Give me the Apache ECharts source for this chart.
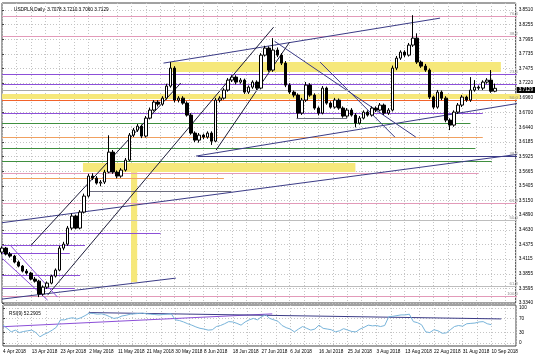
<!DOCTYPE html>
<html><head><meta charset="utf-8">
<script src="https://cdn.jsdelivr.net/npm/echarts@6/dist/echarts.min.js"></script>
<style>html,body{margin:0;padding:0;background:#fff}#c{width:536px;height:358px}</style>
</head><body><div id="c"></div>
<script>
const symbolName = 'USDPLN,Daily';
const dates = ['4 Apr 2018','5 Apr 2018','6 Apr 2018','9 Apr 2018','10 Apr 2018','11 Apr 2018','12 Apr 2018',
'13 Apr 2018','16 Apr 2018','17 Apr 2018','18 Apr 2018','19 Apr 2018','20 Apr 2018','22 Apr 2018',
'23 Apr 2018','24 Apr 2018','25 Apr 2018','26 Apr 2018','27 Apr 2018','30 Apr 2018','1 May 2018',
'2 May 2018','3 May 2018','4 May 2018','7 May 2018','8 May 2018','9 May 2018','10 May 2018',
'11 May 2018','14 May 2018','15 May 2018','16 May 2018','17 May 2018','18 May 2018','20 May 2018',
'21 May 2018','22 May 2018','23 May 2018','24 May 2018','25 May 2018','28 May 2018','29 May 2018',
'30 May 2018','31 May 2018','1 Jun 2018','4 Jun 2018','5 Jun 2018','6 Jun 2018','7 Jun 2018',
'8 Jun 2018','11 Jun 2018','12 Jun 2018','13 Jun 2018','14 Jun 2018','15 Jun 2018','17 Jun 2018',
'18 Jun 2018','19 Jun 2018','20 Jun 2018','21 Jun 2018','22 Jun 2018','25 Jun 2018','26 Jun 2018',
'27 Jun 2018','28 Jun 2018','29 Jun 2018','2 Jul 2018','3 Jul 2018','4 Jul 2018','5 Jul 2018',
'6 Jul 2018','9 Jul 2018','10 Jul 2018','11 Jul 2018','12 Jul 2018','13 Jul 2018','15 Jul 2018',
'16 Jul 2018','17 Jul 2018','18 Jul 2018','19 Jul 2018','20 Jul 2018','23 Jul 2018','24 Jul 2018',
'25 Jul 2018','26 Jul 2018','27 Jul 2018','30 Jul 2018','31 Jul 2018','1 Aug 2018','2 Aug 2018',
'3 Aug 2018','6 Aug 2018','7 Aug 2018','8 Aug 2018','9 Aug 2018','10 Aug 2018','12 Aug 2018',
'13 Aug 2018','14 Aug 2018','15 Aug 2018','16 Aug 2018','17 Aug 2018','20 Aug 2018','21 Aug 2018',
'22 Aug 2018','23 Aug 2018','24 Aug 2018','27 Aug 2018','28 Aug 2018','29 Aug 2018','30 Aug 2018',
'31 Aug 2018','3 Sep 2018','4 Sep 2018','5 Sep 2018','6 Sep 2018','7 Sep 2018','9 Sep 2018',
'10 Sep 2018','11 Sep 2018','12 Sep 2018','13 Sep 2018','14 Sep 2018','17 Sep 2018','18 Sep 2018'];
const lastLabelIndex = 119;

// [open, close, low, high]
const ohlc = [
[3.4238,3.4309,3.4200,3.4340],[3.4309,3.4203,3.4180,3.4330],[3.4203,3.4168,3.4140,3.4240],[3.4168,3.4062,3.4040,3.4190],
[3.4062,3.3991,3.3970,3.4090],[3.3991,3.3903,3.3880,3.4010],[3.3903,3.3868,3.3840,3.3940],[3.3868,3.3762,3.3740,3.3890],
[3.3762,3.3726,3.3700,3.3800],[3.3726,3.3497,3.3444,3.3750],[3.3497,3.3620,3.3470,3.3650],[3.3620,3.3691,3.3590,3.3720],
[3.3691,3.3815,3.3670,3.3840],[3.3815,3.3921,3.3790,3.3950],[3.3921,3.4309,3.3900,3.4350],[3.4309,3.4379,3.4270,3.4420],
[3.4379,3.4662,3.4350,3.4700],[3.4662,3.4874,3.4630,3.4920],[3.4874,3.4662,3.4640,3.4900],[3.4662,3.4944,3.4640,3.4980],
[3.4944,3.5227,3.4920,3.5270],[3.5227,3.5580,3.5200,3.5620],[3.5580,3.5544,3.5510,3.5630],[3.5544,3.5456,3.5430,3.5580],
[3.5456,3.5474,3.5400,3.5510],[3.5474,3.5650,3.5440,3.5690],[3.5650,3.6003,3.5630,3.6300],[3.6003,3.5650,3.5620,3.6040],
[3.5650,3.5580,3.5540,3.5680],[3.5580,3.5686,3.5550,3.5720],[3.5686,3.5862,3.5660,3.5900],[3.5862,3.6303,3.5840,3.6340],
[3.6303,3.6392,3.6270,3.6430],[3.6392,3.6462,3.6360,3.6500],[3.6462,3.6286,3.6250,3.6490],[3.6286,3.6603,3.6260,3.6640],
[3.6603,3.6745,3.6580,3.6790],[3.6745,3.6886,3.6720,3.6920],[3.6886,3.6850,3.6810,3.6920],[3.6850,3.6956,3.6820,3.6990],
[3.6956,3.7168,3.6930,3.7210],[3.7168,3.7486,3.7140,3.7592],[3.7486,3.6921,3.6880,3.7520],[3.6921,3.6956,3.6880,3.6990],
[3.6956,3.6868,3.6840,3.6990],[3.6868,3.6656,3.6630,3.6900],[3.6656,3.6339,3.6310,3.6690],[3.6339,3.6215,3.6180,3.6370],
[3.6215,3.6303,3.6170,3.6340],[3.6303,3.6268,3.6230,3.6330],[3.6268,3.6339,3.6240,3.6370],[3.6339,3.6197,3.6130,3.6370],
[3.6197,3.6921,3.6180,3.6960],[3.6921,3.6956,3.6880,3.6990],[3.6956,3.7098,3.6930,3.7130],[3.7098,3.7274,3.7070,3.7310],
[3.7274,3.7327,3.7240,3.7360],[3.7327,3.7239,3.7200,3.7360],[3.7239,3.7274,3.7210,3.7310],[3.7274,3.7062,3.7030,3.7300],
[3.7062,3.7150,3.7030,3.7180],[3.7150,3.7239,3.7120,3.7270],[3.7239,3.7133,3.7100,3.7270],[3.7133,3.7715,3.7110,3.7750],
[3.7715,3.7839,3.7690,3.7880],[3.7839,3.7451,3.7420,3.7870],[3.7451,3.7804,3.7420,3.8015],[3.7804,3.7715,3.7680,3.7850],
[3.7715,3.7574,3.7540,3.7750],[3.7574,3.7186,3.7150,3.7610],[3.7186,3.7062,3.7030,3.7220],[3.7062,3.7009,3.6970,3.7090],
[3.7009,3.6692,3.6603,3.7040],[3.6692,3.6921,3.6660,3.6960],[3.6921,3.7186,3.6890,3.7240],[3.7186,3.7009,3.6980,3.7220],
[3.7009,3.6780,3.6750,3.7040],[3.6780,3.6692,3.6650,3.6810],[3.6692,3.7133,3.6670,3.7170],[3.7133,3.6868,3.6840,3.7160],
[3.6868,3.6797,3.6770,3.6900],[3.6797,3.6921,3.6770,3.6960],[3.6921,3.6780,3.6750,3.6950],[3.6780,3.6639,3.6610,3.6810],
[3.6639,3.6745,3.6610,3.6780],[3.6745,3.6656,3.6630,3.6780],[3.6656,3.6515,3.6440,3.6690],[3.6515,3.6603,3.6490,3.6640],
[3.6603,3.6709,3.6580,3.6740],[3.6709,3.6656,3.6630,3.6740],[3.6656,3.6780,3.6630,3.6810],[3.6780,3.6745,3.6710,3.6810],
[3.6745,3.6833,3.6720,3.6870],[3.6833,3.6692,3.6660,3.6860],[3.6692,3.6745,3.6660,3.6780],[3.6745,3.7486,3.6720,3.7530],
[3.7486,3.7662,3.7450,3.7700],[3.7662,3.7768,3.7630,3.7800],[3.7768,3.7715,3.7680,3.7800],[3.7715,3.7892,3.7690,3.7930],
[3.7892,3.8015,3.7860,3.8420],[3.8015,3.7592,3.7560,3.8100],[3.7592,3.7521,3.7490,3.7620],[3.7521,3.7451,3.7420,3.7560],
[3.7451,3.6974,3.6940,3.7480],[3.6974,3.6797,3.6760,3.7000],[3.6797,3.7062,3.6770,3.7100],[3.7062,3.6956,3.6920,3.7090],
[3.6956,3.6568,3.6530,3.6990],[3.6568,3.6480,3.6392,3.6600],[3.6480,3.6709,3.6450,3.6740],[3.6709,3.6833,3.6680,3.6870],
[3.6833,3.6974,3.6800,3.7010],[3.6974,3.6921,3.6890,3.7000],[3.6921,3.7098,3.6890,3.7327],[3.7098,3.7150,3.7070,3.7274],
[3.7150,3.7133,3.7100,3.7180],[3.7133,3.7239,3.7100,3.7270],[3.7239,3.7274,3.7210,3.7310],[3.7274,3.7078,3.7050,3.7451],
[3.7078,3.7129,3.7060,3.7210]
];

const rsi = [51,42,32,37,30,33,35,37,30,18,25,30,37,45,66,66,70,72,68,72,78,85,84,82,83,80,75,70,72,77,
79,82,83,84,85,83,82,81,80,81,82,83,66,64,60,55,51,46,42,40,37,38,47,50,55,61,60,56,51,60,
66,70,66,75,80,70,66,62,50,44,40,32,40,47,42,37,40,51,42,40,38,32,35,41,37,33,32,40,45,51,
49,50,47,50,75,76,78,80,80,82,61,58,52,32,30,38,35,28,29,38,47,50,48,55,56,57,60,61,55,52.2905];

const priceTicks = ['3.3340','3.3595','3.3855','3.4115','3.4375','3.4630','3.4890','3.5150','3.5405','3.5665',
'3.5925','3.6185','3.6440','3.6700','3.6960','3.7220','3.7475','3.7735','3.7995','3.8255','3.8510'];
const rsiTicks = [0, 30, 70, 100];

// horizontal levels: [price, fromBar, toBar]
const pinkLevels = [[3.8404,0,126],[3.8051,0,126],[3.5633,0,116],[3.5103,0,126],[3.3462,0,126]];
const purpleLevels = [[3.7380,0,126],[3.7203,0,126],[3.6692,0,117],[3.4574,0,38.6],[3.4362,0,20.2],[3.4221,0,16.5],[3.3832,0,19],[3.3603,0,17.7]];
const redLevels = [[3.6921,0,126]];
const orangeLevels = [[3.6268,0,117],[3.5544,0,54]];
const greenLevels = [[3.6515,0,114],[3.6074,0,115.2],[3.5844,0,119.2]];
const navyLevels = [[3.5933,47.7,126]];
const darkGreyLevels = [[3.5315,20.9,55.8],[3.6603,71.7,84]];
const lightGreyLevels = [[3.4803,0,126],[3.3638,0,126]];
// rectangles: [fromBar, toBar, lowPrice, highPrice]
const zones = [[41,121.4,3.7415,3.7592],[0,126,3.6939,3.7027],[19.7,86,3.5650,3.5809],[31.4,32.9,3.3709,3.5809]];
// trend lines: [[bar, price],[bar, price]]
const navyTrends = [[[39.3,3.7574],[106.6,3.8368]],[[47.2,3.5933],[126,3.6868]],[[0,3.4757],[126,3.5968]],
  [[0,3.3409],[42.3,3.3779]],[[66.3,3.7962],[100.7,3.6268]],[[77.4,3.7592],[95.6,3.6268]]];
const blackTrends = [[[7.1,3.4362],[43.5,3.7221]],[[11.1,3.3479],[66.1,3.8209]],[[52.1,3.6039],[70.0,3.7945]]];
const purpleTrends = [[[0,3.4132],[11.1,3.3391]],[[2.2,3.4344],[13.5,3.3444]]];
const rsiPurpleTrends = [[[0,46.6],[65.6,82.9]]];
const rsiNavyTrends = [[[20.9,86.6],[121.4,68.6]]];
const fibBars = [125.5,125.5,125.5,125.5,125.5,125.5,125.5,125.5,125.5];
const fibPrices = [3.8404,3.8051,3.7380,3.6921,3.5933,3.5103,3.4803,3.3638,3.3462];
const fibTexts = ['76.4','38.2','23.6','50.0','38.2','61.8','50.0','61.8','100.0'];

const FONT = 'Liberation Sans, Arial, sans-serif';
const FS = 4.7;
const last = ohlc[ohlc.length - 1];
const chart = echarts.init(document.getElementById('c'), null, {renderer: 'canvas'});

function levelSeries(levels, color) {
  return {type: 'lines', coordinateSystem: 'cartesian2d', xAxisIndex: 1, yAxisIndex: 0, silent: true, z: 2,
    polyline: false, lineStyle: {color: color, width: 1, opacity: 1, curveness: 0},
    data: levels.map(l => ({coords: [[l[1], l[0]], [l[2], l[0]]]}))};
}
function trendSeries(lines, color, xi, yi) {
  return {type: 'lines', coordinateSystem: 'cartesian2d', xAxisIndex: xi, yAxisIndex: yi, silent: true, z: 3,
    polyline: false, lineStyle: {color: color, width: 1, opacity: 1, curveness: 0},
    data: lines.map(l => ({coords: l}))};
}
const dotted = {show: true, lineStyle: {color: '#c4c4c4', type: [1, 2], width: 1}};
const gridLeft = 2, gridRight = 20;

chart.setOption({
  animation: false,
  backgroundColor: '#ffffff',
  textStyle: {fontFamily: FONT},
  title: [
    {text: symbolName + '  ' + [last[0], last[3], last[2], last[1]].map(v => v.toFixed(4)).join(' '),
     left: 9, top: 2, textStyle: {fontSize: FS, fontWeight: 'normal', color: '#000', fontFamily: FONT}},
    {text: 'RSI(9) ' + rsi[rsi.length - 1].toFixed(4),
     left: 4, top: 306, textStyle: {fontSize: FS, fontWeight: 'normal', color: '#000', fontFamily: FONT}}
  ],
  grid: [
    {left: gridLeft, right: gridRight, top: 3, height: 300, show: true, borderColor: '#444', borderWidth: 1, backgroundColor: '#fff'},
    {left: gridLeft, right: gridRight, top: 305, height: 41, show: true, borderColor: '#444', borderWidth: 1, backgroundColor: '#fff'}
  ],
  xAxis: [
    {type: 'category', gridIndex: 0, data: dates, boundaryGap: false,
     axisLine: {show: false}, axisTick: {show: false}, axisLabel: {show: false}, splitLine: {show: false}},
    {type: 'value', gridIndex: 0, min: 0, max: dates.length - 1, interval: 3.5,
     axisLine: {show: false}, axisTick: {show: false}, axisLabel: {show: false}, splitLine: dotted},
    {type: 'category', gridIndex: 1, data: dates, boundaryGap: false,
     axisLine: {show: false}, axisTick: {show: false}, splitLine: {show: false},
     axisLabel: {interval: (i) => i % 7 === 0 && i <= lastLabelIndex, align: 'left', fontSize: FS, color: '#000',
                 margin: 3, fontFamily: FONT, hideOverlap: false}},
    {type: 'value', gridIndex: 1, min: 0, max: dates.length - 1, interval: 3.5,
     axisLine: {show: false}, axisTick: {show: false}, axisLabel: {show: false}, splitLine: dotted}
  ],
  yAxis: [
    {type: 'value', gridIndex: 0, position: 'right', min: 3.3340, max: 3.8635, scale: true,
     axisLine: {show: false},
     axisTick: {show: true, length: 2, lineStyle: {color: '#444'}, customValues: priceTicks.map(Number)},
     axisLabel: {fontSize: FS, color: '#000', margin: 3, fontFamily: FONT, customValues: priceTicks.map(Number),
                 formatter: v => v.toFixed(4)},
     splitLine: dotted},
    {type: 'value', gridIndex: 1, position: 'right', min: -8, max: 108,
     axisLine: {show: false},
     axisTick: {show: true, length: 2, lineStyle: {color: '#444'}, customValues: rsiTicks},
     axisLabel: {fontSize: FS, color: '#000', margin: 3, fontFamily: FONT, customValues: rsiTicks},
     splitLine: dotted}
  ],
  series: [
    {type: 'custom', xAxisIndex: 1, yAxisIndex: 0, silent: true, z: 1, data: zones,
     encode: {x: [0, 1], y: [2, 3]},
     renderItem: (params, api) => {
       const a = api.coord([api.value(0), api.value(3)]);
       const b = api.coord([api.value(1), api.value(2)]);
       return {type: 'rect', shape: {x: a[0], y: a[1], width: b[0] - a[0], height: b[1] - a[1]},
               style: {fill: '#f6e87a'}};
     }},
    levelSeries(lightGreyLevels, '#bdbdbd'),
    levelSeries(pinkLevels, '#e39ab9'),
    levelSeries(purpleLevels, '#8c4fd8'),
    levelSeries(redLevels, '#f2622a'),
    levelSeries(orangeLevels, '#f0a060'),
    levelSeries(greenLevels, '#3f8f3f'),
    levelSeries(navyLevels, '#3b3b86'),
    levelSeries(darkGreyLevels, '#6d6d80'),
    trendSeries(navyTrends, '#3b3b86', 1, 0),
    trendSeries(blackTrends, '#1c1c38', 1, 0),
    trendSeries(purpleTrends, '#8c4fd8', 1, 0),
    {type: 'custom', xAxisIndex: 1, yAxisIndex: 0, silent: true, z: 4,
     data: fibBars.map((b, i) => [b, fibPrices[i], i]),
     encode: {x: 0, y: 1},
     renderItem: (params, api) => {
       const p = api.coord([api.value(0), api.value(1)]);
       return {type: 'text', x: p[0], y: p[1] - 0.5,
               style: {text: fibTexts[api.value(2)], fill: '#8a8a8a', align: 'right', verticalAlign: 'bottom',
                       font: '4.2px ' + FONT}};
     }},
    {type: 'candlestick', xAxisIndex: 0, yAxisIndex: 0, data: ohlc, barWidth: 3, clip: false, z: 5,
     itemStyle: {color: '#ffffff', color0: '#000000', borderColor: '#000000', borderColor0: '#000000', borderWidth: 1},
     markLine: {silent: true, symbol: 'none', animation: false,
       lineStyle: {color: '#a8a8a8', width: 1, type: 'solid'},
       label: {show: true, position: 'end', distance: 1, formatter: () => last[1].toFixed(4),
               backgroundColor: '#000', color: '#fff', fontSize: FS, padding: [1, 2, 0, 2], fontFamily: FONT},
       data: [{yAxis: last[1]}]}},
    {type: 'line', xAxisIndex: 2, yAxisIndex: 1, data: rsi, showSymbol: false, silent: true, z: 4,
     lineStyle: {color: '#78b4da', width: 1}},
    trendSeries(rsiPurpleTrends, '#8c4fd8', 3, 1),
    trendSeries(rsiNavyTrends, '#3b3b86', 3, 1)
  ]
});
</script>
</body></html>
